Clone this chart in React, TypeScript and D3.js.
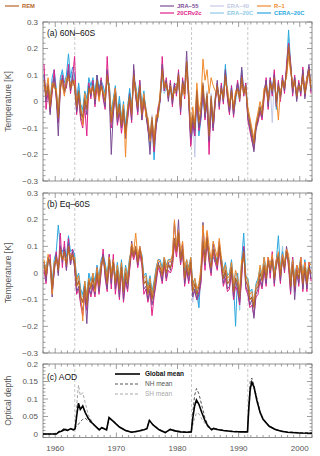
import React, { useRef, useEffect } from "react";
import * as d3 from "d3";

// temperature anomalies [K], 3 values per year (4-month steps) from 1958 to 2001
// panel (a) 60N-60S
const remA = [
  .08, .02, .06, -.02, .05, .07, .03, -.06, .06, .08, .04, .07,
  .1, .05, .08, .06, -.02, .04, -.04, -.06, .01, -.03, .05, .03,
  .06, .01, .08, .02, .06, .03, .0, .1, .04, -.08, -.02, .03,
  -.06, -.01, -.09, -.03, -.12, -.04, .02, -.05, .1, .03, -.02, .06,
  -.05, .01, -.03, -.08, -.14, -.06, -.17, -.07, -.04, .02, .12, .05,
  .07, .02, .06, .01, .05, .04, .1, -.02, .07, .03, .15, .02,
  -.12, -.05, -.1, .04, -.08, -.03, .07, -.04, .03, -.13, .02, -.08,
  .01, .06, .0, .05, .01, .1, .03, -.02, .04, -.03, .02, .05,
  .01, .09, .03, .06, -.04, -.08, -.12, -.16, -.09, -.06, -.02, -.05,
  .03, .06, .0, .07, .04, .09, .0, .06, .02, .08, .05, .11,
  .21, .13, .05, .08, .02, .06, .04, .1, .03, .07, .12, .05,
];
const jraA = [
  .1, .0, .07, -.05, .06, .09, .02, -.13, .05, .09, .03, .06,
  .12, .04, .1, .05, -.04, .02, -.06, -.08, .0, -.05, .06, .02,
  .07, -.01, .1, .03, .08, .02, -.02, .12, .03, -.2, -.04, .02,
  -.08, -.03, -.1, -.05, -.14, -.06, .03, -.07, .14, .02, -.04, .05,
  -.07, .02, -.05, -.1, -.2, -.08, -.16, -.09, -.05, .01, .14, .06,
  .08, .0, .07, -.01, .06, .03, .11, -.04, .08, .05, .19, .03,
  -.14, -.07, -.11, .03, -.1, -.05, .06, -.06, .02, -.15, .01, -.1,
  .0, .08, -.02, .06, .0, .12, .02, -.04, .05, -.05, .03, .07,
  .02, .13, .04, .05, -.06, -.1, -.14, -.19, -.11, -.07, -.03, -.06,
  .04, .08, -.02, .08, .03, .1, -.02, .07, .01, .09, .04, .12,
  .2, .14, .03, .09, .0, .07, .03, .12, .01, .08, .14, .04,
];
const era40A = [
  .07, .03, .05, -.01, .04, .08, .04, -.05, .07, .07, .05, .06,
  .09, .06, .07, .07, -.01, .05, -.03, -.05, .02, -.02, .04, .04,
  .05, .02, .07, .03, .05, .04, .01, .09, .05, -.07, -.01, .04,
  -.05, .0, -.08, -.02, -.1, -.03, .03, -.04, .09, .04, -.01, .07,
  -.04, .02, -.02, -.07, -.12, -.05, -.15, -.06, -.03, .03, .11, .04,
  .06, .03, .05, .02, .04, .05, .09, -.01, .06, .04, .13, .01,
  -.11, -.04, -.21, .05, -.07, -.02, .06, -.03, .04, -.12, .03, -.07,
  .02, .05, .01, .04, .02, .09, .04, -.01, .03, -.02, .01, .06,
  .0, .08, .04, .05, -.03, -.07, -.11, -.15, -.08, -.05, -.01, -.04,
  .02, .05, .01, .06, -.08, .08, .01, .05, .03, .07, .06, .1,
  .19, .12, .06, .07, .03, .05, .05, .09, .04, .06, .11, .06,
];
const r1A = [
  .06, .04, .09, .0, .07, .05, .05, -.04, .08, .06, .02, .09,
  .08, .07, .06, .08, .0, .03, -.02, -.09, .03, -.01, .03, .05,
  .04, .03, .06, .0, .05, .04, .02, .08, .06, -.06, .0, .05,
  -.04, -.03, -.07, -.01, -.21, -.02, .01, -.03, .08, .05, .0, .04,
  -.03, .03, -.06, -.06, -.15, -.07, -.14, -.05, -.06, .04, .1, .07,
  .05, .04, .04, .03, .03, .06, .08, .0, .05, .02, .12, .04,
  -.1, -.02, -.08, .07, -.04, .0, .16, .08, .12, .03, .09, .06,
  .04, .03, .02, .03, .03, .07, .05, .0, .02, -.01, .04, .03,
  .03, .06, .05, .04, -.02, -.06, -.1, -.14, -.08, -.04, .0, -.03,
  .05, .04, .02, .05, .06, .07, .02, -.07, .04, .06, .07, .09,
  .17, .11, .08, .06, .04, .05, .06, .07, .05, .09, .1, .07,
];
const cr20A = [
  .14, -.03, .04, -.04, .03, .12, .01, -.08, .04, .1, .06, .05,
  .14, .03, .09, .17, -.05, .02, -.07, -.1, -.02, -.13, .07, .01,
  .08, -.02, .06, .01, .09, .01, -.03, .17, .02, -.1, -.05, .05,
  -.09, -.04, -.12, -.06, -.1, -.07, .0, -.08, .12, .02, -.05, .08,
  -.07, -.01, -.04, -.11, -.13, -.09, -.19, -.1, -.02, .0, .17, .04,
  .09, .01, .08, -.02, .07, .02, .12, -.05, .09, .01, .14, .0,
  -.17, -.08, -.13, .02, -.11, -.06, .05, -.07, .01, -.2, .0, -.11,
  -.01, .07, -.03, .07, -.01, .11, .01, -.05, .06, -.06, .02, .08,
  .0, .1, .02, .07, -.07, -.11, -.15, -.18, -.1, -.08, -.04, -.07,
  .01, .09, -.03, .09, .02, .12, -.01, .08, .0, .1, .03, .14,
  .22, .15, .02, .1, .01, .08, .02, .13, .02, .09, .13, .03,
];
const era20cA = [
  .09, .01, .07, -.03, .06, .1, .02, -.05, .08, .11, .05, .09,
  .13, .07, .11, .09, .01, .06, -.02, -.04, .03, .0, .08, .05,
  .08, .03, .09, .04, .07, .05, .02, .08, .06, -.05, .0, .05,
  -.04, .01, -.06, -.01, -.09, -.02, .04, -.03, .08, .05, .0, .07,
  -.03, .03, -.05, -.09, -.16, -.08, -.13, -.08, -.06, .0, .1, .03,
  .05, .03, .04, .0, .06, .05, .08, -.03, .05, .02, .14, .0,
  -.14, -.07, -.12, .02, -.11, -.06, .04, -.05, .0, -.14, -.01, -.1,
  .0, .05, -.01, .04, .0, .12, .02, -.03, .05, -.05, .0, .06,
  .0, .1, .02, .06, -.05, -.09, -.13, -.17, -.1, -.07, -.03, -.04,
  .02, .07, -.01, .08, .03, .1, -.02, .05, .01, .07, .04, .11,
  .24, .13, .04, .08, .01, .06, .03, .1, .02, .08, .12, .04,
];
const cera20cA = [
  .1, .03, .05, .0, .09, .12, .05, -.07, .09, .12, .07, .1,
  .18, .09, .13, .1, .0, .07, -.01, -.03, .04, .01, .09, .06,
  .09, .02, .1, .05, .08, .06, .03, .07, .07, -.04, .01, .06,
  -.05, .02, -.07, .0, -.1, -.03, .05, -.02, .09, .06, .01, .08,
  -.02, .04, -.04, -.1, -.17, -.07, -.22, -.09, -.05, .01, .11, .04,
  .06, .04, .05, .02, .07, .06, .09, -.02, .06, .03, .13, .01,
  -.16, -.09, -.13, .01, -.13, -.07, .03, -.06, -.01, -.15, -.02, -.11,
  .01, .06, .0, .05, .02, .14, .03, -.04, .06, -.04, .01, .07,
  .02, .12, .03, .07, -.04, -.08, -.12, -.17, -.09, -.06, -.02, -.03,
  .03, .08, .0, .09, .04, .11, -.03, .06, .02, .08, .05, .12,
  .27, .14, .05, .09, .02, .07, .04, .11, .03, .09, .13, .05,
];

// panel (b) Eq-60S
const remB = [
  .03, -.01, .04, .05, -.06, .02, .06, .01, .09, .05, .08, .03,
  .1, .05, .07, .04, -.05, -.03, -.09, -.11, -.05, -.12, -.03, -.06,
  -.02, -.06, .0, -.05, .02, .06, .01, -.04, .05, -.02, .04, -.04,
  .01, -.06, .02, -.07, .0, -.04, .03, .1, .06, .1, .04, .09,
  .05, -.04, -.03, -.08, -.04, -.1, -.06, -.01, .03, .02, -.01, .04,
  .0, .03, .02, .04, .13, .08, .15, .05, .09, -.02, .03, -.01,
  .04, -.07, -.04, -.08, -.05, -.01, .12, .04, .13, .06, .02, .09,
  .06, .03, .1, .04, -.02, .01, -.04, -.03, .02, -.07, -.02, -.04,
  -.09, .02, .08, -.03, -.05, -.1, -.09, -.13, -.06, -.05, .0, -.03,
  .03, -.02, .04, .01, .05, -.02, .03, .06, -.01, .05, .02, .08,
  .04, -.05, .03, -.05, .01, -.02, .03, -.04, .02, -.04, .02, .0,
];
const jraB = [
  .04, -.03, .06, .03, -.09, .01, .07, -.01, .1, .04, .09, .01,
  .11, .03, .08, .02, -.07, -.05, -.11, -.14, -.07, -.19, -.05, -.08,
  -.04, -.08, .02, -.07, .01, .07, -.01, -.06, .05, -.04, .05, -.06,
  .0, -.09, .03, -.1, -.02, -.06, .02, .12, .07, .09, .03, .1,
  .06, -.06, -.05, -.1, -.06, -.12, -.08, -.03, .04, .01, -.03, .05,
  -.02, .04, .01, .06, .19, .09, .2, .04, .11, -.04, .02, -.03,
  .05, -.09, -.06, -.1, -.07, -.03, .19, .03, .15, .05, .0, .11,
  .07, .02, .12, .03, -.04, .0, -.06, -.05, .01, -.09, -.03, -.06,
  -.11, .0, .09, -.05, -.07, -.12, -.1, -.17, -.08, -.06, -.02, -.05,
  .02, -.04, .05, .0, .06, -.04, .04, .07, -.03, .06, .01, .1,
  .05, -.07, .04, -.1, .0, -.04, .04, -.06, .01, -.06, .03, -.02,
];
const era40B = [
  .02, .0, .03, .05, -.04, .03, .05, .02, .08, .06, .07, .04,
  .09, .06, .06, .05, -.04, -.02, -.07, -.09, -.04, -.1, -.02, -.05,
  -.01, -.05, .01, -.04, .03, .05, .02, -.03, .04, -.01, .03, -.03,
  .02, -.05, .03, -.06, .01, -.03, .04, .09, .05, .09, .05, .08,
  .04, -.03, -.02, -.07, -.03, -.09, -.05, .0, .02, .03, .0, .03,
  .01, .02, .03, .03, .12, .07, .14, .06, .08, -.01, .04, .0,
  .03, -.11, -.05, -.09, -.13, .0, .1, .05, .11, .07, .03, .08,
  .05, .04, .09, .05, -.01, .02, -.03, -.02, .03, -.06, -.01, -.03,
  -.08, .03, .07, -.02, -.04, -.09, -.08, -.12, -.05, -.04, .01, -.02,
  .04, -.01, .03, .02, .04, -.01, .02, .05, .0, .04, .03, .07,
  .03, -.04, .04, -.04, .02, -.01, .04, -.03, .03, -.03, .03, .01,
];
const r1B = [
  .05, .0, .07, .04, -.08, .04, .04, .03, .07, .06, .05, .04,
  .08, .07, .05, .06, -.03, -.01, -.08, -.18, -.03, -.09, -.02, -.05,
  .0, -.07, .02, -.03, .04, .04, .03, -.02, .06, .0, .05, -.03,
  .03, -.04, .04, -.06, .02, -.02, .05, .11, .08, .15, .06, .1,
  .06, -.02, -.01, -.07, -.02, -.09, -.04, .01, .05, .04, .0, .06,
  .02, .05, .04, .07, .2, .1, .16, .08, .12, .02, .05, .01,
  .06, -.05, -.02, -.06, -.04, .02, .18, .09, .16, .1, .05, .12,
  .09, .06, .13, .06, .0, .03, -.02, -.01, .04, -.04, .01, -.02,
  -.06, .05, .06, -.01, -.03, -.08, -.07, -.11, -.05, -.03, .03, -.01,
  .06, .0, .06, .03, .07, -.01, .05, .08, .01, .07, .04, .09,
  .07, -.03, .05, -.03, .03, .0, .06, -.01, .04, -.02, .04, .03,
];
const cr20B = [
  .01, -.04, .05, .07, -.07, .0, .08, .0, .15, .02, .12, .01,
  .13, .03, .09, .02, -.08, -.06, -.12, -.16, -.08, -.14, -.06, -.09,
  -.05, -.09, -.01, -.08, .0, .09, -.02, -.07, .07, -.06, .07, -.08,
  -.01, -.1, .01, -.11, -.03, -.07, .01, .08, .05, .08, .02, .07,
  .03, -.08, -.06, -.11, -.07, -.16, -.09, -.04, .02, .0, -.04, .03,
  -.03, .01, .0, .02, .11, .06, .13, .03, .08, -.05, .01, -.04,
  .02, -.08, -.07, -.1, -.08, -.04, .1, .01, .12, .04, -.01, .08,
  .04, .01, .08, .02, -.05, -.02, -.07, -.06, .0, -.1, -.05, -.07,
  -.12, -.02, .1, -.06, -.08, -.13, -.12, -.16, -.09, -.08, -.03, -.06,
  .01, -.05, .06, -.02, .08, -.05, .05, .04, -.04, .07, .0, .09,
  .02, -.08, .06, -.07, .03, -.05, .06, -.07, .04, -.07, .04, -.03,
];
const era20cB = [
  .03, .01, .05, .04, -.05, .03, .07, .02, .1, .07, .09, .04,
  .12, .06, .08, .06, -.03, -.01, -.07, -.09, -.04, -.1, -.01, -.04,
  -.01, -.04, .02, -.03, .04, .06, .03, -.02, .06, -.01, .04, -.03,
  .03, -.04, .04, -.05, .02, -.02, .05, .09, .07, .08, .05, .07,
  .06, -.02, -.01, -.06, -.02, -.08, -.04, .01, .04, .04, .01, .05,
  .02, .04, .04, .05, .12, .09, .12, .07, .08, .0, .04, .01,
  .05, -.05, -.03, -.07, -.1, .01, .09, .06, .1, .07, .04, .07,
  .05, .05, .08, .05, .0, .03, -.02, -.01, .04, -.05, .0, -.02,
  -.14, .04, .1, -.02, -.03, -.08, -.07, -.13, -.05, -.03, .01, -.02,
  .05, .0, .05, .03, .06, .0, .04, .07, .0, .1, .03, .07,
  .05, -.03, .05, -.03, .02, .0, .05, -.02, .04, -.03, .03, .02,
];
const cera20cB = [
  .04, .02, .06, .03, -.04, .05, .08, .18, .1, .08, .1, .06,
  .14, .08, .09, .07, -.02, .0, -.06, -.08, -.03, -.09, .0, -.03,
  .0, -.03, .03, -.02, .05, .07, .04, -.01, .07, .0, .05, -.02,
  .04, -.03, .05, -.04, .03, -.01, .06, .08, .08, .07, .06, .06,
  .07, -.01, .0, -.05, -.01, -.07, -.03, .02, .05, .05, .02, .06,
  .03, .05, .05, .06, .11, .1, .11, .08, .07, .01, .05, .02,
  .06, -.04, -.02, -.06, -.13, .02, .08, .07, .09, .08, .05, .06,
  .04, .06, .07, .06, .01, .04, -.01, .0, .05, -.04, -.2, .0,
  -.1, .05, .15, -.01, -.02, -.07, -.06, -.12, -.04, -.02, .02, -.01,
  .06, .01, .04, .04, .05, .01, .05, .14, .01, .08, .04, .06,
  .06, -.02, .06, -.02, .03, .01, .06, -.01, .05, -.02, .04, .03,
];

// aerosol optical depth, vertices
const aodYears = [
  1958, 1960.2, 1960.6, 1961.0, 1961.5, 1962.0, 1962.5, 1963.0, 1963.25, 1963.5,
  1963.8, 1964.1, 1964.5, 1964.9, 1965.4, 1966.0, 1966.6, 1967.2, 1967.6, 1968.1,
  1968.4, 1968.8, 1969.5, 1970.5, 1971.5, 1972.5, 1973.5, 1974.5, 1975.0, 1975.4,
  1976.0, 1977.0, 1978.0, 1978.8, 1979.6, 1980.5, 1981.5, 1982.25, 1982.5, 1982.8,
  1983.1, 1983.5, 1984.0, 1984.5, 1985.0, 1985.6, 1985.9, 1986.5, 1987.5, 1989.0,
  1990.5, 1991.45, 1991.65, 1991.9, 1992.15, 1992.5, 1993.0, 1993.5, 1994.0, 1995.0,
  1996.0, 1997.0, 1998.0, 2000.0, 2002.0,
];
const aodGlobal = [
  0, 0, .006, .008, .013, .01, .015, .012, .015, .05,
  .088, .07, .08, .062, .045, .032, .022, .012, .018, .014,
  .012, .047, .036, .02, .01, .005, .008, .012, .015, .039,
  .026, .012, .004, .013, .009, .006, .005, .006, .045, .08,
  .097, .085, .06, .038, .022, .012, .016, .013, .01, .007,
  .006, .006, .07, .13, .148, .135, .095, .062, .042, .022,
  .013, .008, .005, .003, .002,
];
const aodNH = [
  0, 0, .008, .01, .017, .012, .016, .013, .018, .022,
  .028, .035, .042, .045, .038, .03, .022, .014, .019, .015,
  .013, .048, .037, .021, .011, .006, .009, .013, .016, .04,
  .027, .013, .005, .014, .01, .007, .006, .006, .06, .11,
  .13, .115, .08, .045, .025, .014, .017, .014, .011, .008,
  .007, .007, .08, .15, .16, .14, .1, .065, .044, .023,
  .014, .009, .006, .004, .003,
];
const aodSH = [
  0, 0, .005, .007, .01, .009, .014, .011, .014, .08,
  .14, .11, .118, .09, .055, .035, .023, .011, .017, .013,
  .011, .045, .035, .019, .009, .004, .007, .011, .014, .037,
  .025, .011, .003, .011, .008, .005, .004, .005, .025, .045,
  .06, .058, .042, .03, .019, .01, .014, .012, .009, .006,
  .005, .005, .06, .12, .14, .135, .092, .06, .04, .021,
  .012, .007, .004, .003, .002,
];

const eruptions = [1963.2, 1982.3, 1991.5]; // Agung, El Chichon, Pinatubo
const tempTicks = [-0.3, -0.2, -0.1, 0, 0.1, 0.2, 0.3];
const aodTicks = [0, 0.05, 0.1, 0.15, 0.2];
const yearTicks = [1960, 1970, 1980, 1990, 2000];

const FONT = "'Liberation Sans', Arial, sans-serif";

const App = () => {
  const ref = useRef<SVGSVGElement>(null);

  useEffect(() => {
    const svg = d3.select(ref.current);
    svg.selectAll("*").remove();

    const left = 43;
    const right = 312;
    const x = d3.scaleLinear().domain([1958, 2002]).range([left, right]);
    const axisColor = "#777";
    const labelColor = "#555";

    // series, in drawing order (REM on top)
    const series = [
      { name: "ERA-40", color: "#c3c9e6", a: era40A, b: era40B },
      { name: "ERA-20C", color: "#8ecae6", a: era20cA, b: era20cB },
      { name: "CERA-20C", color: "#2aa7df", a: cera20cA, b: cera20cB },
      { name: "20CRv2c", color: "#e0218a", a: cr20A, b: cr20B },
      { name: "JRA-55", color: "#7b4a93", a: jraA, b: jraB },
      { name: "R-1", color: "#f0892a", a: r1A, b: r1B },
      { name: "REM", color: "#b5652b", a: remA, b: remB },
    ];
    const colorOf = (n: string) => series.find((s) => s.name === n)!.color;

    const drawFrame = (
      y: d3.ScaleLinear<number, number>,
      majors: number[],
      minorStep: number,
      fmt: (v: number) => string
    ) => {
      const [y0, y1] = y.range();
      const top = Math.min(y0, y1);
      const bottom = Math.max(y0, y1);
      const g = svg.append("g");
      g.append("rect")
        .attr("x", left)
        .attr("y", top)
        .attr("width", right - left)
        .attr("height", bottom - top)
        .attr("fill", "none")
        .attr("stroke", axisColor)
        .attr("stroke-width", 0.8);

      // year ticks on top and bottom
      d3.range(1958, 2003).forEach((yr) => {
        const len = yr % 10 === 0 ? 5 : 2.5;
        [
          [top, top + len],
          [bottom, bottom - len],
        ].forEach(([a, b]) => {
          g.append("line")
            .attr("x1", x(yr))
            .attr("x2", x(yr))
            .attr("y1", a)
            .attr("y2", b)
            .attr("stroke", axisColor)
            .attr("stroke-width", 0.7);
        });
      });

      // value ticks on left and right
      const [d0, d1] = y.domain();
      const n = Math.round((d1 - d0) / minorStep);
      for (let i = 0; i <= n; i++) {
        const v = +(d0 + i * minorStep).toFixed(4);
        const isMajor = majors.some((m) => Math.abs(m - v) < 1e-6);
        const len = isMajor ? 5 : 2.5;
        [
          [left, left + len],
          [right, right - len],
        ].forEach(([a, b]) => {
          g.append("line")
            .attr("x1", a)
            .attr("x2", b)
            .attr("y1", y(v))
            .attr("y2", y(v))
            .attr("stroke", axisColor)
            .attr("stroke-width", 0.7);
        });
      }
      majors.forEach((m) => {
        g.append("text")
          .attr("x", left - 5)
          .attr("y", y(m))
          .attr("dy", "0.35em")
          .attr("text-anchor", "end")
          .attr("font-family", FONT)
          .attr("font-size", 8)
          .attr("fill", labelColor)
          .text(fmt(m));
      });

      // eruption markers
      eruptions.forEach((e) => {
        g.append("line")
          .attr("x1", x(e))
          .attr("x2", x(e))
          .attr("y1", top)
          .attr("y2", bottom)
          .attr("stroke", "#c8c8c8")
          .attr("stroke-width", 1)
          .attr("stroke-dasharray", "3,2");
      });
      return { top, bottom };
    };

    const fmtTemp = (v: number) => (v === 0 ? "0" : d3.format(".1f")(v).replace("-", "\u2212"));

    // temperature panels
    const panels = [
      { key: "a", top: 22, bottom: 181, label: "(a) 60N\u201260S" },
      { key: "b", top: 193, bottom: 353, label: "(b) Eq\u201260S" },
    ];
    panels.forEach((p) => {
      const y = d3.scaleLinear().domain([-0.3, 0.3]).range([p.bottom, p.top]);
      drawFrame(y, tempTicks, 0.02, fmtTemp);

      const clipId = `clip-${p.key}`;
      svg
        .append("clipPath")
        .attr("id", clipId)
        .append("rect")
        .attr("x", left)
        .attr("y", p.top)
        .attr("width", right - left)
        .attr("height", p.bottom - p.top);

      const line = d3
        .line<number>()
        .x((d, i) => x(1958 + (i + 0.5) / 3))
        .y((d) => y(d));

      const g = svg.append("g").attr("clip-path", `url(#${clipId})`);
      series.forEach((s) => {
        g.append("path")
          .datum(p.key === "a" ? s.a : s.b)
          .attr("d", line)
          .attr("fill", "none")
          .attr("stroke", s.color)
          .attr("stroke-width", s.name === "REM" ? 1.2 : 1)
          .attr("stroke-linejoin", "round");
      });

      svg
        .append("text")
        .attr("x", left + 4)
        .attr("y", p.top + 14)
        .attr("font-family", FONT)
        .attr("font-size", 8.5)
        .attr("fill", "#111")
        .text(p.label);

      svg
        .append("text")
        .attr("transform", `translate(11,${(p.top + p.bottom) / 2}) rotate(-90)`)
        .attr("text-anchor", "middle")
        .attr("font-family", FONT)
        .attr("font-size", 8.5)
        .attr("fill", labelColor)
        .text("Temperature [K]");
    });

    // AOD panel
    const yA = d3.scaleLinear().domain([-0.01, 0.2]).range([437.5, 364]);
    drawFrame(yA, aodTicks, 0.01, (v) => (v === 0 ? "0" : String(v)));

    const aodLine = d3
      .line<[number, number]>()
      .x((d) => x(d[0]))
      .y((d) => yA(d[1]));
    const aodSeries = [
      { name: "SH mean", vals: aodSH, color: "#a8a8a8", width: 1, dash: "3,2" },
      { name: "NH mean", vals: aodNH, color: "#555", width: 1, dash: "3,2" },
      { name: "Global mean", vals: aodGlobal, color: "#000", width: 1.6, dash: null },
    ];
    aodSeries.forEach((s) => {
      svg
        .append("path")
        .datum(aodYears.map((yr, i) => [yr, s.vals[i]] as [number, number]))
        .attr("d", aodLine)
        .attr("fill", "none")
        .attr("stroke", s.color)
        .attr("stroke-width", s.width)
        .attr("stroke-dasharray", s.dash);
    });

    svg
      .append("text")
      .attr("x", left + 4)
      .attr("y", 380)
      .attr("font-family", FONT)
      .attr("font-size", 8.5)
      .attr("fill", "#111")
      .text("(c) AOD");

    svg
      .append("text")
      .attr("transform", `translate(11,${(364 + 437.5) / 2}) rotate(-90)`)
      .attr("text-anchor", "middle")
      .attr("font-family", FONT)
      .attr("font-size", 8.5)
      .attr("fill", labelColor)
      .text("Optical depth");

    // AOD legend
    [
      { name: "Global mean", color: "#000", text: "#111", width: 1.6, dash: null, y: 374, bold: true },
      { name: "NH mean", color: "#555", text: "#555", width: 1, dash: "3,2", y: 384, bold: false },
      { name: "SH mean", color: "#a8a8a8", text: "#a8a8a8", width: 1, dash: "3,2", y: 394, bold: false },
    ].forEach((l) => {
      svg
        .append("line")
        .attr("x1", 115)
        .attr("x2", 140)
        .attr("y1", l.y)
        .attr("y2", l.y)
        .attr("stroke", l.color)
        .attr("stroke-width", l.width)
        .attr("stroke-dasharray", l.dash);
      svg
        .append("text")
        .attr("x", 145)
        .attr("y", l.y)
        .attr("dy", "0.35em")
        .attr("font-family", FONT)
        .attr("font-size", 6.5)
        .attr("font-weight", l.bold ? "bold" : "normal")
        .attr("fill", l.text)
        .text(l.name);
    });

    // year labels
    yearTicks.forEach((yr) => {
      svg
        .append("text")
        .attr("x", x(yr))
        .attr("y", 451)
        .attr("text-anchor", "middle")
        .attr("font-family", FONT)
        .attr("font-size", 8)
        .attr("fill", labelColor)
        .text(yr);
    });

    // top legend
    const legendItems = [
      { name: "REM", lx: 5, ly: 6 },
      { name: "JRA-55", lx: 160, ly: 6 },
      { name: "ERA-40", lx: 210, ly: 6 },
      { name: "R-1", lx: 257, ly: 6 },
      { name: "20CRv2c", lx: 160, ly: 13 },
      { name: "ERA-20C", lx: 210, ly: 13 },
      { name: "CERA-20C", lx: 257, ly: 13 },
    ];
    legendItems.forEach((it) => {
      const c = colorOf(it.name);
      svg
        .append("line")
        .attr("x1", it.lx)
        .attr("x2", it.lx + 14)
        .attr("y1", it.ly)
        .attr("y2", it.ly)
        .attr("stroke", c)
        .attr("stroke-width", 1.2);
      svg
        .append("text")
        .attr("x", it.lx + 17)
        .attr("y", it.ly)
        .attr("dy", "0.35em")
        .attr("font-family", FONT)
        .attr("font-size", 5.8)
        .attr("font-weight", "bold")
        .attr("fill", c)
        .text(it.name.replace("-", "\u2212"));
    });
  }, []);

  return (
    <svg
      ref={ref}
      width={320}
      height={456}
      style={{ position: "absolute", left: 0, top: 0, background: "#fff" }}
    ></svg>
  );
};

export default App;
